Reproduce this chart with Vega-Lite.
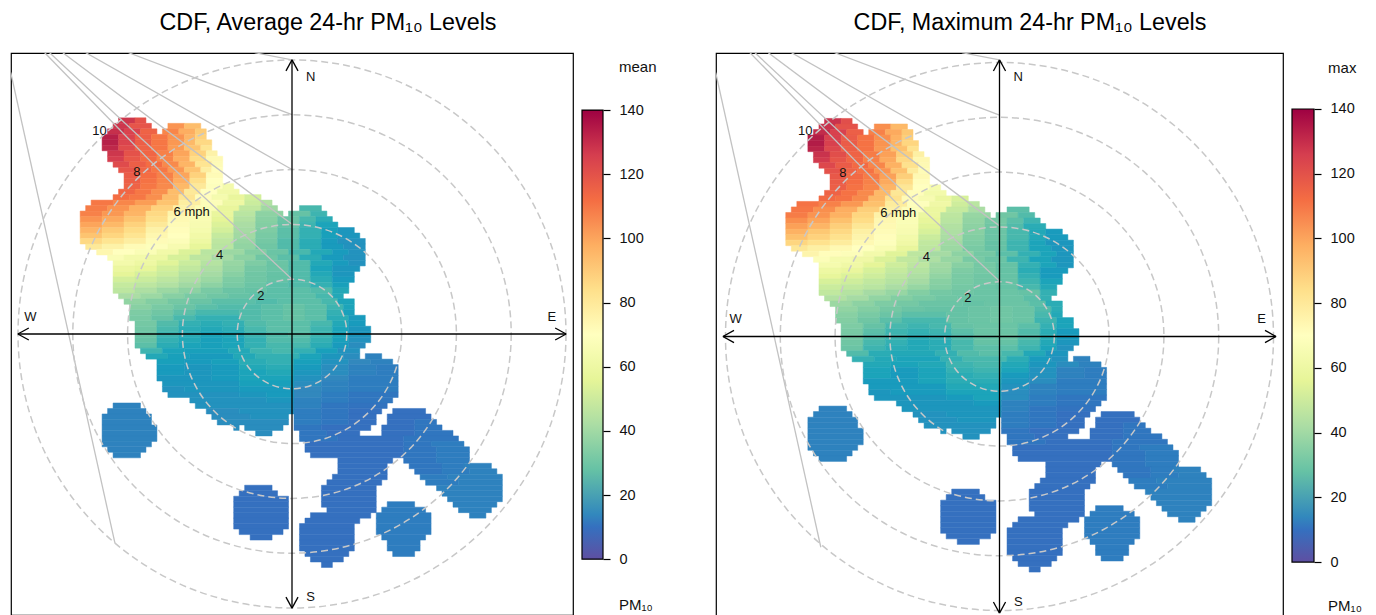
{"$schema":"https://vega.github.io/schema/vega-lite/v6.json","padding":{"left":10,"top":10,"right":0,"bottom":0},"background":"white","config":{"font":"Liberation Sans","view":{"stroke":null},"axis":{"grid":false}},
"datasets":{
"cells":[
{"x":-32,"x2":-29,"y":39,"mean":128,"max":129},{"x":-29,"x2":-27,"y":39,"mean":120,"max":121},
{"x":-33,"x2":-30,"y":38,"mean":128,"max":129},{"x":-30,"x2":-26,"y":38,"mean":119,"max":120},{"x":-23,"x2":-20,"y":38,"mean":104,"max":105},{"x":-20,"x2":-17,"y":38,"mean":94,"max":95},
{"x":-34,"x2":-31,"y":37,"mean":130,"max":131},{"x":-31,"x2":-28,"y":37,"mean":124,"max":125},{"x":-28,"x2":-25,"y":37,"mean":115,"max":116},{"x":-24,"x2":-21,"y":37,"mean":107,"max":108},{"x":-21,"x2":-18,"y":37,"mean":98,"max":99},{"x":-18,"x2":-16,"y":37,"mean":90,"max":91},
{"x":-35,"x2":-32,"y":36,"mean":134,"max":135},{"x":-32,"x2":-29,"y":36,"mean":124,"max":125},{"x":-29,"x2":-26,"y":36,"mean":116,"max":117},{"x":-26,"x2":-23,"y":36,"mean":110,"max":111},{"x":-23,"x2":-20,"y":36,"mean":104,"max":105},{"x":-20,"x2":-18,"y":36,"mean":96,"max":97},{"x":-18,"x2":-16,"y":36,"mean":88,"max":89},
{"x":-35,"x2":-32,"y":35,"mean":134,"max":135},{"x":-32,"x2":-29,"y":35,"mean":124,"max":125},{"x":-29,"x2":-26,"y":35,"mean":116,"max":117},{"x":-26,"x2":-23,"y":35,"mean":110,"max":111},{"x":-23,"x2":-20,"y":35,"mean":103,"max":104},{"x":-20,"x2":-18,"y":35,"mean":95,"max":96},{"x":-18,"x2":-15,"y":35,"mean":86,"max":87},
{"x":-35,"x2":-32,"y":34,"mean":132,"max":133},{"x":-32,"x2":-29,"y":34,"mean":122,"max":123},{"x":-29,"x2":-26,"y":34,"mean":115,"max":116},{"x":-26,"x2":-23,"y":34,"mean":110,"max":111},{"x":-23,"x2":-20,"y":34,"mean":102,"max":103},{"x":-20,"x2":-17,"y":34,"mean":92,"max":93},{"x":-17,"x2":-15,"y":34,"mean":82,"max":83},
{"x":-34,"x2":-31,"y":33,"mean":128,"max":129},{"x":-31,"x2":-28,"y":33,"mean":120,"max":121},{"x":-28,"x2":-25,"y":33,"mean":114,"max":115},{"x":-25,"x2":-22,"y":33,"mean":108,"max":109},{"x":-22,"x2":-19,"y":33,"mean":100,"max":101},{"x":-19,"x2":-16,"y":33,"mean":88,"max":89},{"x":-16,"x2":-14,"y":33,"mean":76,"max":77},
{"x":-34,"x2":-31,"y":32,"mean":126,"max":127},{"x":-31,"x2":-28,"y":32,"mean":118,"max":119},{"x":-28,"x2":-25,"y":32,"mean":113,"max":114},{"x":-25,"x2":-22,"y":32,"mean":107,"max":108},{"x":-22,"x2":-19,"y":32,"mean":98,"max":99},{"x":-19,"x2":-16,"y":32,"mean":85,"max":86},{"x":-16,"x2":-13,"y":32,"mean":73,"max":74},
{"x":-33,"x2":-30,"y":31,"mean":122,"max":123},{"x":-30,"x2":-27,"y":31,"mean":116,"max":117},{"x":-27,"x2":-24,"y":31,"mean":112,"max":113},{"x":-24,"x2":-21,"y":31,"mean":106,"max":107},{"x":-21,"x2":-18,"y":31,"mean":96,"max":97},{"x":-18,"x2":-15,"y":31,"mean":82,"max":83},{"x":-15,"x2":-13,"y":31,"mean":72,"max":73},
{"x":-32,"x2":-29,"y":30,"mean":119,"max":120},{"x":-29,"x2":-26,"y":30,"mean":114,"max":115},{"x":-26,"x2":-23,"y":30,"mean":110,"max":111},{"x":-23,"x2":-20,"y":30,"mean":103,"max":104},{"x":-20,"x2":-17,"y":30,"mean":92,"max":93},{"x":-17,"x2":-15,"y":30,"mean":78,"max":79},{"x":-15,"x2":-13,"y":30,"mean":71,"max":72},
{"x":-31,"x2":-28,"y":29,"mean":117,"max":118},{"x":-28,"x2":-25,"y":29,"mean":112,"max":113},{"x":-25,"x2":-22,"y":29,"mean":108,"max":109},{"x":-22,"x2":-19,"y":29,"mean":100,"max":101},{"x":-19,"x2":-16,"y":29,"mean":88,"max":89},{"x":-16,"x2":-13,"y":29,"mean":72,"max":73},
{"x":-31,"x2":-28,"y":28,"mean":116,"max":117},{"x":-28,"x2":-25,"y":28,"mean":111,"max":112},{"x":-25,"x2":-22,"y":28,"mean":107,"max":108},{"x":-22,"x2":-19,"y":28,"mean":98,"max":99},{"x":-19,"x2":-16,"y":28,"mean":84,"max":85},{"x":-16,"x2":-13,"y":28,"mean":70,"max":71},
{"x":-31,"x2":-28,"y":27,"mean":115,"max":116},{"x":-28,"x2":-25,"y":27,"mean":110,"max":111},{"x":-25,"x2":-22,"y":27,"mean":106,"max":107},{"x":-22,"x2":-19,"y":27,"mean":95,"max":96},{"x":-19,"x2":-16,"y":27,"mean":80,"max":81},{"x":-16,"x2":-13,"y":27,"mean":69,"max":70},{"x":-13,"x2":-11,"y":27,"mean":63,"max":64},
{"x":-32,"x2":-29,"y":26,"mean":114,"max":115},{"x":-29,"x2":-26,"y":26,"mean":110,"max":111},{"x":-26,"x2":-23,"y":26,"mean":105,"max":106},{"x":-23,"x2":-20,"y":26,"mean":94,"max":95},{"x":-20,"x2":-17,"y":26,"mean":80,"max":81},{"x":-17,"x2":-14,"y":26,"mean":70,"max":71},{"x":-14,"x2":-10,"y":26,"mean":62,"max":63},
{"x":-33,"x2":-30,"y":25,"mean":112,"max":113},{"x":-30,"x2":-27,"y":25,"mean":110,"max":111},{"x":-27,"x2":-24,"y":25,"mean":105,"max":106},{"x":-24,"x2":-21,"y":25,"mean":94,"max":95},{"x":-21,"x2":-18,"y":25,"mean":82,"max":83},{"x":-18,"x2":-15,"y":25,"mean":71,"max":72},{"x":-15,"x2":-12,"y":25,"mean":64,"max":65},{"x":-12,"x2":-9,"y":25,"mean":58,"max":59},{"x":-9,"x2":-6,"y":25,"mean":52,"max":53},
{"x":-37,"x2":-33,"y":24,"mean":110,"max":111},{"x":-33,"x2":-29,"y":24,"mean":107,"max":108},{"x":-29,"x2":-25,"y":24,"mean":102,"max":103},{"x":-25,"x2":-21,"y":24,"mean":92,"max":93},{"x":-21,"x2":-17,"y":24,"mean":78,"max":79},{"x":-17,"x2":-13,"y":24,"mean":68,"max":69},{"x":-13,"x2":-9,"y":24,"mean":60,"max":61},{"x":-9,"x2":-6,"y":24,"mean":50,"max":51},{"x":-6,"x2":-4,"y":24,"mean":44,"max":46},
{"x":-38,"x2":-34,"y":23,"mean":109,"max":110},{"x":-34,"x2":-30,"y":23,"mean":104,"max":105},{"x":-30,"x2":-26,"y":23,"mean":97,"max":98},{"x":-26,"x2":-22,"y":23,"mean":88,"max":89},{"x":-22,"x2":-18,"y":23,"mean":76,"max":77},{"x":-18,"x2":-14,"y":23,"mean":67,"max":68},{"x":-14,"x2":-10,"y":23,"mean":58,"max":59},{"x":-10,"x2":-6,"y":23,"mean":48,"max":49},{"x":-6,"x2":-3,"y":23,"mean":40,"max":42},{"x":1,"x2":5,"y":23,"mean":25,"max":27},
{"x":-39,"x2":-35,"y":22,"mean":108,"max":109},{"x":-35,"x2":-31,"y":22,"mean":103,"max":104},{"x":-31,"x2":-27,"y":22,"mean":96,"max":97},{"x":-27,"x2":-23,"y":22,"mean":86,"max":87},{"x":-23,"x2":-19,"y":22,"mean":75,"max":76},{"x":-19,"x2":-15,"y":22,"mean":67,"max":68},{"x":-15,"x2":-11,"y":22,"mean":58,"max":59},{"x":-11,"x2":-7,"y":22,"mean":46,"max":47},{"x":-7,"x2":-2,"y":22,"mean":36,"max":38},{"x":-1,"x2":3,"y":22,"mean":28,"max":30},{"x":3,"x2":6,"y":22,"mean":24,"max":26},
{"x":-39,"x2":-35,"y":21,"mean":104,"max":105},{"x":-35,"x2":-31,"y":21,"mean":99,"max":100},{"x":-31,"x2":-27,"y":21,"mean":92,"max":93},{"x":-27,"x2":-23,"y":21,"mean":84,"max":85},{"x":-23,"x2":-19,"y":21,"mean":73,"max":74},{"x":-19,"x2":-15,"y":21,"mean":66,"max":67},{"x":-15,"x2":-11,"y":21,"mean":56,"max":57},{"x":-11,"x2":-7,"y":21,"mean":44,"max":46},{"x":-7,"x2":-3,"y":21,"mean":35,"max":37},{"x":-3,"x2":1,"y":21,"mean":29,"max":31},{"x":1,"x2":4,"y":21,"mean":25,"max":27},{"x":4,"x2":7,"y":21,"mean":22,"max":24},
{"x":-39,"x2":-35,"y":20,"mean":100,"max":101},{"x":-35,"x2":-31,"y":20,"mean":95,"max":96},{"x":-31,"x2":-27,"y":20,"mean":88,"max":89},{"x":-27,"x2":-23,"y":20,"mean":80,"max":81},{"x":-23,"x2":-19,"y":20,"mean":72,"max":73},{"x":-19,"x2":-15,"y":20,"mean":65,"max":66},{"x":-15,"x2":-11,"y":20,"mean":54,"max":55},{"x":-11,"x2":-7,"y":20,"mean":42,"max":44},{"x":-7,"x2":-3,"y":20,"mean":34,"max":36},{"x":-3,"x2":1,"y":20,"mean":28,"max":30},{"x":1,"x2":4,"y":20,"mean":24,"max":26},{"x":4,"x2":8,"y":20,"mean":20,"max":22},
{"x":-39,"x2":-35,"y":19,"mean":96,"max":97},{"x":-35,"x2":-31,"y":19,"mean":90,"max":91},{"x":-31,"x2":-27,"y":19,"mean":85,"max":86},{"x":-27,"x2":-23,"y":19,"mean":76,"max":77},{"x":-23,"x2":-19,"y":19,"mean":71,"max":72},{"x":-19,"x2":-15,"y":19,"mean":64,"max":65},{"x":-15,"x2":-11,"y":19,"mean":52,"max":53},{"x":-11,"x2":-7,"y":19,"mean":41,"max":43},{"x":-7,"x2":-3,"y":19,"mean":33,"max":35},{"x":-3,"x2":1,"y":19,"mean":27,"max":29},{"x":1,"x2":5,"y":19,"mean":23,"max":25},{"x":5,"x2":8,"y":19,"mean":19,"max":21},{"x":8,"x2":11,"y":19,"mean":17,"max":18},
{"x":-39,"x2":-35,"y":18,"mean":92,"max":93},{"x":-35,"x2":-31,"y":18,"mean":87,"max":88},{"x":-31,"x2":-27,"y":18,"mean":82,"max":83},{"x":-27,"x2":-23,"y":18,"mean":74,"max":75},{"x":-23,"x2":-19,"y":18,"mean":70,"max":71},{"x":-19,"x2":-15,"y":18,"mean":62,"max":63},{"x":-15,"x2":-11,"y":18,"mean":49,"max":50},{"x":-11,"x2":-7,"y":18,"mean":40,"max":42},{"x":-7,"x2":-3,"y":18,"mean":32,"max":34},{"x":-3,"x2":1,"y":18,"mean":27,"max":29},{"x":1,"x2":5,"y":18,"mean":23,"max":25},{"x":5,"x2":8,"y":18,"mean":19,"max":21},{"x":8,"x2":12,"y":18,"mean":17,"max":18},
{"x":-39,"x2":-35,"y":17,"mean":86,"max":87},{"x":-35,"x2":-31,"y":17,"mean":82,"max":83},{"x":-31,"x2":-27,"y":17,"mean":78,"max":79},{"x":-27,"x2":-23,"y":17,"mean":72,"max":73},{"x":-23,"x2":-19,"y":17,"mean":68,"max":69},{"x":-19,"x2":-15,"y":17,"mean":60,"max":61},{"x":-15,"x2":-11,"y":17,"mean":47,"max":48},{"x":-11,"x2":-7,"y":17,"mean":38,"max":40},{"x":-7,"x2":-3,"y":17,"mean":31,"max":33},{"x":-3,"x2":1,"y":17,"mean":26,"max":28},{"x":1,"x2":5,"y":17,"mean":22,"max":24},{"x":5,"x2":8,"y":17,"mean":18,"max":20},{"x":8,"x2":13,"y":17,"mean":16,"max":17},
{"x":-38,"x2":-35,"y":16,"mean":80,"max":81},{"x":-35,"x2":-31,"y":16,"mean":76,"max":77},{"x":-31,"x2":-27,"y":16,"mean":72,"max":73},{"x":-27,"x2":-23,"y":16,"mean":69,"max":70},{"x":-23,"x2":-19,"y":16,"mean":65,"max":66},{"x":-19,"x2":-15,"y":16,"mean":57,"max":58},{"x":-15,"x2":-11,"y":16,"mean":46,"max":47},{"x":-11,"x2":-7,"y":16,"mean":37,"max":39},{"x":-7,"x2":-3,"y":16,"mean":30,"max":32},{"x":-3,"x2":1,"y":16,"mean":26,"max":28},{"x":1,"x2":5,"y":16,"mean":22,"max":24},{"x":5,"x2":9,"y":16,"mean":18,"max":20},{"x":9,"x2":13,"y":16,"mean":16,"max":17},
{"x":-36,"x2":-33,"y":15,"mean":74,"max":75},{"x":-33,"x2":-29,"y":15,"mean":70,"max":71},{"x":-29,"x2":-25,"y":15,"mean":67,"max":68},{"x":-25,"x2":-21,"y":15,"mean":62,"max":63},{"x":-21,"x2":-17,"y":15,"mean":54,"max":55},{"x":-17,"x2":-13,"y":15,"mean":46,"max":47},{"x":-13,"x2":-9,"y":15,"mean":39,"max":41},{"x":-9,"x2":-5,"y":15,"mean":34,"max":36},{"x":-5,"x2":-1,"y":15,"mean":29,"max":31},{"x":-1,"x2":3,"y":15,"mean":25,"max":27},{"x":3,"x2":7,"y":15,"mean":21,"max":23},{"x":7,"x2":10,"y":15,"mean":18,"max":20},{"x":10,"x2":13,"y":15,"mean":16,"max":17},
{"x":-34,"x2":-31,"y":14,"mean":67,"max":68},{"x":-31,"x2":-27,"y":14,"mean":63,"max":64},{"x":-27,"x2":-23,"y":14,"mean":60,"max":61},{"x":-23,"x2":-19,"y":14,"mean":53,"max":54},{"x":-19,"x2":-15,"y":14,"mean":47,"max":48},{"x":-15,"x2":-11,"y":14,"mean":41,"max":43},{"x":-11,"x2":-7,"y":14,"mean":36,"max":38},{"x":-7,"x2":-3,"y":14,"mean":30,"max":32},{"x":-3,"x2":1,"y":14,"mean":27,"max":29},{"x":1,"x2":5,"y":14,"mean":22,"max":24},{"x":5,"x2":9,"y":14,"mean":18,"max":20},{"x":9,"x2":13,"y":14,"mean":16,"max":17},
{"x":-33,"x2":-29,"y":13,"mean":63,"max":64},{"x":-29,"x2":-25,"y":13,"mean":60,"max":61},{"x":-25,"x2":-21,"y":13,"mean":55,"max":56},{"x":-21,"x2":-17,"y":13,"mean":50,"max":51},{"x":-17,"x2":-13,"y":13,"mean":45,"max":47},{"x":-13,"x2":-9,"y":13,"mean":38,"max":40},{"x":-9,"x2":-5,"y":13,"mean":33,"max":35},{"x":-5,"x2":-1,"y":13,"mean":29,"max":31},{"x":-1,"x2":3,"y":13,"mean":26,"max":28},{"x":3,"x2":7,"y":13,"mean":21,"max":23},{"x":7,"x2":10,"y":13,"mean":18,"max":20},{"x":10,"x2":13,"y":13,"mean":16,"max":17},
{"x":-33,"x2":-29,"y":12,"mean":59,"max":60},{"x":-29,"x2":-25,"y":12,"mean":57,"max":58},{"x":-25,"x2":-21,"y":12,"mean":52,"max":53},{"x":-21,"x2":-17,"y":12,"mean":48,"max":49},{"x":-17,"x2":-13,"y":12,"mean":43,"max":45},{"x":-13,"x2":-9,"y":12,"mean":37,"max":39},{"x":-9,"x2":-5,"y":12,"mean":31,"max":33},{"x":-5,"x2":-1,"y":12,"mean":29,"max":31},{"x":-1,"x2":3,"y":12,"mean":26,"max":28},{"x":3,"x2":7,"y":12,"mean":20,"max":22},{"x":7,"x2":12,"y":12,"mean":17,"max":18},
{"x":-33,"x2":-29,"y":11,"mean":56,"max":57},{"x":-29,"x2":-25,"y":11,"mean":53,"max":54},{"x":-25,"x2":-21,"y":11,"mean":50,"max":51},{"x":-21,"x2":-17,"y":11,"mean":45,"max":47},{"x":-17,"x2":-13,"y":11,"mean":41,"max":43},{"x":-13,"x2":-9,"y":11,"mean":35,"max":37},{"x":-9,"x2":-5,"y":11,"mean":30,"max":32},{"x":-5,"x2":-1,"y":11,"mean":28,"max":30},{"x":-1,"x2":3,"y":11,"mean":26,"max":28},{"x":3,"x2":7,"y":11,"mean":21,"max":23},{"x":7,"x2":11,"y":11,"mean":17,"max":18},
{"x":-33,"x2":-29,"y":10,"mean":52,"max":53},{"x":-29,"x2":-25,"y":10,"mean":50,"max":51},{"x":-25,"x2":-21,"y":10,"mean":47,"max":48},{"x":-21,"x2":-17,"y":10,"mean":43,"max":45},{"x":-17,"x2":-13,"y":10,"mean":39,"max":41},{"x":-13,"x2":-9,"y":10,"mean":33,"max":35},{"x":-9,"x2":-5,"y":10,"mean":30,"max":32},{"x":-5,"x2":-1,"y":10,"mean":28,"max":30},{"x":-1,"x2":3,"y":10,"mean":26,"max":28},{"x":3,"x2":7,"y":10,"mean":22,"max":24},{"x":7,"x2":11,"y":10,"mean":18,"max":20},
{"x":-33,"x2":-29,"y":9,"mean":49,"max":50},{"x":-29,"x2":-25,"y":9,"mean":47,"max":48},{"x":-25,"x2":-21,"y":9,"mean":44,"max":46},{"x":-21,"x2":-17,"y":9,"mean":40,"max":42},{"x":-17,"x2":-13,"y":9,"mean":36,"max":38},{"x":-13,"x2":-9,"y":9,"mean":32,"max":34},{"x":-9,"x2":-5,"y":9,"mean":29,"max":31},{"x":-5,"x2":-1,"y":9,"mean":27,"max":29},{"x":-1,"x2":3,"y":9,"mean":26,"max":28},{"x":3,"x2":7,"y":9,"mean":23,"max":25},{"x":7,"x2":10,"y":9,"mean":19,"max":21},
{"x":-33,"x2":-29,"y":8,"mean":47,"max":48},{"x":-29,"x2":-25,"y":8,"mean":43,"max":45},{"x":-25,"x2":-21,"y":8,"mean":39,"max":41},{"x":-21,"x2":-17,"y":8,"mean":36,"max":38},{"x":-17,"x2":-13,"y":8,"mean":32,"max":34},{"x":-13,"x2":-9,"y":8,"mean":29,"max":31},{"x":-9,"x2":-5,"y":8,"mean":28,"max":30},{"x":-5,"x2":3,"y":8,"mean":27,"max":29},{"x":3,"x2":7,"y":8,"mean":26,"max":28},{"x":7,"x2":10,"y":8,"mean":21,"max":23},
{"x":-32,"x2":-28,"y":7,"mean":42,"max":44},{"x":-28,"x2":-24,"y":7,"mean":39,"max":41},{"x":-24,"x2":-20,"y":7,"mean":35,"max":37},{"x":-20,"x2":-16,"y":7,"mean":32,"max":34},{"x":-16,"x2":-12,"y":7,"mean":30,"max":32},{"x":-12,"x2":-8,"y":7,"mean":28,"max":30},{"x":-8,"x2":4,"y":7,"mean":27,"max":29},{"x":4,"x2":7,"y":7,"mean":25,"max":27},{"x":7,"x2":9,"y":7,"mean":21,"max":23},
{"x":-31,"x2":-27,"y":6,"mean":37,"max":39},{"x":-27,"x2":-23,"y":6,"mean":34,"max":36},{"x":-23,"x2":-19,"y":6,"mean":31,"max":33},{"x":-19,"x2":-15,"y":6,"mean":29,"max":31},{"x":-15,"x2":-7,"y":6,"mean":27,"max":29},{"x":-7,"x2":-3,"y":6,"mean":26,"max":28},{"x":-3,"x2":5,"y":6,"mean":27,"max":29},{"x":5,"x2":8,"y":6,"mean":25,"max":27},{"x":8,"x2":11,"y":6,"mean":20,"max":22},
{"x":-30,"x2":-26,"y":5,"mean":35,"max":37},{"x":-26,"x2":-22,"y":5,"mean":32,"max":34},{"x":-22,"x2":-18,"y":5,"mean":29,"max":31},{"x":-18,"x2":-14,"y":5,"mean":27,"max":29},{"x":-14,"x2":-6,"y":5,"mean":26,"max":28},{"x":-6,"x2":-2,"y":5,"mean":27,"max":29},{"x":-2,"x2":2,"y":5,"mean":28,"max":30},{"x":2,"x2":6,"y":5,"mean":27,"max":29},{"x":6,"x2":9,"y":5,"mean":24,"max":26},{"x":9,"x2":11,"y":5,"mean":20,"max":22},
{"x":-30,"x2":-26,"y":4,"mean":33,"max":35},{"x":-26,"x2":-22,"y":4,"mean":30,"max":32},{"x":-22,"x2":-18,"y":4,"mean":27,"max":29},{"x":-18,"x2":-10,"y":4,"mean":25,"max":27},{"x":-10,"x2":-6,"y":4,"mean":26,"max":28},{"x":-6,"x2":-2,"y":4,"mean":27,"max":29},{"x":-2,"x2":2,"y":4,"mean":28,"max":30},{"x":2,"x2":6,"y":4,"mean":27,"max":29},{"x":6,"x2":9,"y":4,"mean":23,"max":25},{"x":9,"x2":11,"y":4,"mean":19,"max":21},
{"x":-30,"x2":-26,"y":3,"mean":32,"max":34},{"x":-26,"x2":-22,"y":3,"mean":28,"max":30},{"x":-22,"x2":-18,"y":3,"mean":25,"max":27},{"x":-18,"x2":-10,"y":3,"mean":23,"max":25},{"x":-10,"x2":-6,"y":3,"mean":26,"max":28},{"x":-6,"x2":-2,"y":3,"mean":27,"max":29},{"x":-2,"x2":2,"y":3,"mean":28,"max":30},{"x":2,"x2":6,"y":3,"mean":27,"max":29},{"x":6,"x2":10,"y":3,"mean":22,"max":24},{"x":10,"x2":13,"y":3,"mean":18,"max":20},
{"x":-29,"x2":-25,"y":2,"mean":31,"max":33},{"x":-25,"x2":-21,"y":2,"mean":26,"max":28},{"x":-21,"x2":-17,"y":2,"mean":23,"max":25},{"x":-17,"x2":-13,"y":2,"mean":22,"max":24},{"x":-13,"x2":-9,"y":2,"mean":23,"max":25},{"x":-9,"x2":-5,"y":2,"mean":26,"max":28},{"x":-5,"x2":3,"y":2,"mean":27,"max":29},{"x":3,"x2":7,"y":2,"mean":25,"max":27},{"x":7,"x2":10,"y":2,"mean":21,"max":23},{"x":10,"x2":13,"y":2,"mean":18,"max":20},
{"x":-29,"x2":-25,"y":1,"mean":30,"max":32},{"x":-25,"x2":-21,"y":1,"mean":25,"max":27},{"x":-21,"x2":-17,"y":1,"mean":22,"max":24},{"x":-17,"x2":-13,"y":1,"mean":21,"max":23},{"x":-13,"x2":-9,"y":1,"mean":22,"max":24},{"x":-9,"x2":-5,"y":1,"mean":25,"max":27},{"x":-5,"x2":3,"y":1,"mean":27,"max":29},{"x":3,"x2":7,"y":1,"mean":24,"max":26},{"x":7,"x2":10,"y":1,"mean":20,"max":22},{"x":10,"x2":14,"y":1,"mean":17,"max":18},
{"x":-29,"x2":-25,"y":0,"mean":29,"max":31},{"x":-25,"x2":-21,"y":0,"mean":24,"max":26},{"x":-21,"x2":-17,"y":0,"mean":22,"max":24},{"x":-17,"x2":-13,"y":0,"mean":20,"max":22},{"x":-13,"x2":-9,"y":0,"mean":21,"max":23},{"x":-9,"x2":-5,"y":0,"mean":24,"max":26},{"x":-5,"x2":-1,"y":0,"mean":26,"max":28},{"x":-1,"x2":3,"y":0,"mean":27,"max":29},{"x":3,"x2":7,"y":0,"mean":24,"max":26},{"x":7,"x2":10,"y":0,"mean":20,"max":22},{"x":10,"x2":14,"y":0,"mean":17,"max":18},
{"x":-29,"x2":-25,"y":-1,"mean":28,"max":30},{"x":-25,"x2":-21,"y":-1,"mean":23,"max":25},{"x":-21,"x2":-17,"y":-1,"mean":21,"max":23},{"x":-17,"x2":-13,"y":-1,"mean":19,"max":21},{"x":-13,"x2":-9,"y":-1,"mean":20,"max":22},{"x":-9,"x2":-5,"y":-1,"mean":23,"max":25},{"x":-5,"x2":3,"y":-1,"mean":26,"max":28},{"x":3,"x2":7,"y":-1,"mean":23,"max":25},{"x":7,"x2":10,"y":-1,"mean":19,"max":21},{"x":10,"x2":14,"y":-1,"mean":16,"max":17},
{"x":-29,"x2":-25,"y":-2,"mean":27,"max":29},{"x":-25,"x2":-21,"y":-2,"mean":22,"max":24},{"x":-21,"x2":-17,"y":-2,"mean":20,"max":22},{"x":-17,"x2":-13,"y":-2,"mean":19,"max":21},{"x":-13,"x2":-9,"y":-2,"mean":20,"max":22},{"x":-9,"x2":-5,"y":-2,"mean":23,"max":25},{"x":-5,"x2":3,"y":-2,"mean":25,"max":27},{"x":3,"x2":7,"y":-2,"mean":22,"max":24},{"x":7,"x2":10,"y":-2,"mean":18,"max":20},{"x":10,"x2":13,"y":-2,"mean":15,"max":16},
{"x":-28,"x2":-24,"y":-3,"mean":24,"max":26},{"x":-24,"x2":-20,"y":-3,"mean":20,"max":22},{"x":-20,"x2":-12,"y":-3,"mean":19,"max":21},{"x":-12,"x2":-8,"y":-3,"mean":21,"max":23},{"x":-8,"x2":-4,"y":-3,"mean":24,"max":26},{"x":-4,"x2":0,"y":-3,"mean":25,"max":27},{"x":0,"x2":4,"y":-3,"mean":23,"max":25},{"x":4,"x2":8,"y":-3,"mean":19,"max":21},{"x":8,"x2":12,"y":-3,"mean":16,"max":17},
{"x":-27,"x2":-23,"y":-4,"mean":21,"max":23},{"x":-23,"x2":-19,"y":-4,"mean":19,"max":21},{"x":-19,"x2":-11,"y":-4,"mean":18,"max":20},{"x":-11,"x2":-7,"y":-4,"mean":21,"max":23},{"x":-7,"x2":1,"y":-4,"mean":23,"max":25},{"x":1,"x2":5,"y":-4,"mean":20,"max":22},{"x":5,"x2":9,"y":-4,"mean":17,"max":18},{"x":9,"x2":12,"y":-4,"mean":15,"max":16},{"x":13,"x2":16,"y":-4,"mean":13,"max":13},
{"x":-25,"x2":-20,"y":-5,"mean":19,"max":21},{"x":-20,"x2":-15,"y":-5,"mean":18,"max":20},{"x":-15,"x2":-10,"y":-5,"mean":19,"max":21},{"x":-10,"x2":-5,"y":-5,"mean":22,"max":24},{"x":-5,"x2":0,"y":-5,"mean":23,"max":25},{"x":0,"x2":5,"y":-5,"mean":19,"max":21},{"x":5,"x2":10,"y":-5,"mean":16,"max":17},{"x":10,"x2":14,"y":-5,"mean":14,"max":15},{"x":14,"x2":18,"y":-5,"mean":13,"max":13},
{"x":-25,"x2":-20,"y":-6,"mean":18,"max":20},{"x":-20,"x2":-15,"y":-6,"mean":17,"max":18},{"x":-15,"x2":-10,"y":-6,"mean":18,"max":20},{"x":-10,"x2":-5,"y":-6,"mean":21,"max":23},{"x":-5,"x2":0,"y":-6,"mean":22,"max":24},{"x":0,"x2":5,"y":-6,"mean":18,"max":20},{"x":5,"x2":10,"y":-6,"mean":15,"max":16},{"x":10,"x2":15,"y":-6,"mean":13,"max":13},{"x":15,"x2":19,"y":-6,"mean":12,"max":12},
{"x":-25,"x2":-20,"y":-7,"mean":18,"max":20},{"x":-20,"x2":-15,"y":-7,"mean":17,"max":18},{"x":-15,"x2":-10,"y":-7,"mean":18,"max":20},{"x":-10,"x2":-5,"y":-7,"mean":20,"max":22},{"x":-5,"x2":0,"y":-7,"mean":21,"max":23},{"x":0,"x2":5,"y":-7,"mean":17,"max":18},{"x":5,"x2":10,"y":-7,"mean":15,"max":16},{"x":10,"x2":15,"y":-7,"mean":13,"max":13},{"x":15,"x2":19,"y":-7,"mean":12,"max":12},
{"x":-25,"x2":-15,"y":-8,"mean":17,"max":18},{"x":-15,"x2":-10,"y":-8,"mean":18,"max":20},{"x":-10,"x2":0,"y":-8,"mean":20,"max":22},{"x":0,"x2":5,"y":-8,"mean":16,"max":17},{"x":5,"x2":10,"y":-8,"mean":14,"max":15},{"x":10,"x2":19,"y":-8,"mean":12,"max":12},
{"x":-24,"x2":-10,"y":-9,"mean":17,"max":18},{"x":-10,"x2":0,"y":-9,"mean":19,"max":21},{"x":0,"x2":5,"y":-9,"mean":15,"max":16},{"x":5,"x2":10,"y":-9,"mean":13,"max":13},{"x":10,"x2":19,"y":-9,"mean":12,"max":12},
{"x":-24,"x2":-20,"y":-10,"mean":16,"max":17},{"x":-20,"x2":-10,"y":-10,"mean":17,"max":18},{"x":-10,"x2":0,"y":-10,"mean":18,"max":20},{"x":0,"x2":5,"y":-10,"mean":14,"max":15},{"x":5,"x2":10,"y":-10,"mean":13,"max":13},{"x":10,"x2":19,"y":-10,"mean":12,"max":12},
{"x":-23,"x2":-10,"y":-11,"mean":16,"max":17},{"x":-10,"x2":-5,"y":-11,"mean":17,"max":18},{"x":-5,"x2":0,"y":-11,"mean":18,"max":20},{"x":0,"x2":5,"y":-11,"mean":14,"max":15},{"x":5,"x2":10,"y":-11,"mean":12,"max":12},{"x":10,"x2":19,"y":-11,"mean":11,"max":11},
{"x":-19,"x2":-5,"y":-12,"mean":16,"max":17},{"x":-5,"x2":0,"y":-12,"mean":17,"max":18},{"x":0,"x2":5,"y":-12,"mean":13,"max":13},{"x":5,"x2":10,"y":-12,"mean":12,"max":12},{"x":10,"x2":18,"y":-12,"mean":11,"max":11},
{"x":-18,"x2":0,"y":-13,"mean":16,"max":17},{"x":0,"x2":5,"y":-13,"mean":13,"max":13},{"x":5,"x2":10,"y":-13,"mean":11,"max":11},{"x":10,"x2":17,"y":-13,"mean":10.5,"max":10.5},{"x":-33,"x2":-28,"y":-13,"mean":13,"max":13},
{"x":-16,"x2":-10,"y":-14,"mean":15,"max":16},{"x":-10,"x2":0,"y":-14,"mean":16,"max":17},{"x":0,"x2":5,"y":-14,"mean":12,"max":12},{"x":5,"x2":10,"y":-14,"mean":11,"max":11},{"x":10,"x2":16,"y":-14,"mean":10,"max":10},{"x":18,"x2":24,"y":-14,"mean":10,"max":10},{"x":-34,"x2":-27,"y":-14,"mean":13,"max":13},
{"x":-15,"x2":-8,"y":-15,"mean":15,"max":16},{"x":-8,"x2":-1,"y":-15,"mean":16,"max":17},{"x":0,"x2":5,"y":-15,"mean":12,"max":12},{"x":5,"x2":10,"y":-15,"mean":11,"max":11},{"x":10,"x2":15,"y":-15,"mean":10,"max":10},{"x":17,"x2":25,"y":-15,"mean":10,"max":10},{"x":-35,"x2":-26,"y":-15,"mean":13,"max":13},
{"x":-14,"x2":-1,"y":-16,"mean":15,"max":16},{"x":0,"x2":5,"y":-16,"mean":12,"max":12},{"x":5,"x2":10,"y":-16,"mean":11,"max":11},{"x":10,"x2":15,"y":-16,"mean":10,"max":10},{"x":17,"x2":22,"y":-16,"mean":10,"max":10},{"x":22,"x2":26,"y":-16,"mean":11,"max":11},{"x":-35,"x2":-26,"y":-16,"mean":13,"max":13},
{"x":-11,"x2":-10,"y":-17,"mean":15,"max":16},{"x":-9,"x2":-2,"y":-17,"mean":15,"max":16},{"x":0,"x2":5,"y":-17,"mean":11,"max":11},{"x":5,"x2":14,"y":-17,"mean":10,"max":10},{"x":16,"x2":22,"y":-17,"mean":10,"max":10},{"x":22,"x2":27,"y":-17,"mean":11,"max":11},{"x":-35,"x2":-25,"y":-17,"mean":13,"max":13},
{"x":-7,"x2":-4,"y":-18,"mean":15,"max":16},{"x":1,"x2":6,"y":-18,"mean":11,"max":11},{"x":6,"x2":12,"y":-18,"mean":10,"max":10},{"x":16,"x2":22,"y":-18,"mean":10,"max":10},{"x":22,"x2":29,"y":-18,"mean":11,"max":11},{"x":-35,"x2":-25,"y":-18,"mean":13,"max":13},
{"x":1,"x2":8,"y":-19,"mean":11,"max":11},{"x":8,"x2":20,"y":-19,"mean":10,"max":10},{"x":20,"x2":30,"y":-19,"mean":11,"max":11},{"x":-35,"x2":-25,"y":-19,"mean":13,"max":13},
{"x":2,"x2":20,"y":-20,"mean":10,"max":10},{"x":20,"x2":25,"y":-20,"mean":11,"max":11},{"x":25,"x2":31,"y":-20,"mean":12,"max":12},{"x":-35,"x2":-26,"y":-20,"mean":13,"max":13},
{"x":2,"x2":20,"y":-21,"mean":10,"max":10},{"x":20,"x2":26,"y":-21,"mean":11,"max":11},{"x":26,"x2":32,"y":-21,"mean":12,"max":12},{"x":-34,"x2":-27,"y":-21,"mean":13,"max":13},
{"x":3,"x2":20,"y":-22,"mean":10,"max":10},{"x":20,"x2":26,"y":-22,"mean":11,"max":11},{"x":26,"x2":32,"y":-22,"mean":12,"max":12},{"x":-33,"x2":-28,"y":-22,"mean":13,"max":13},
{"x":8,"x2":18,"y":-23,"mean":10,"max":10},{"x":20,"x2":26,"y":-23,"mean":11,"max":11},{"x":26,"x2":32,"y":-23,"mean":12,"max":12},
{"x":8,"x2":17,"y":-24,"mean":10,"max":10},{"x":21,"x2":27,"y":-24,"mean":11,"max":11},{"x":27,"x2":31,"y":-24,"mean":12,"max":12},{"x":31,"x2":36,"y":-24,"mean":13,"max":13},
{"x":8,"x2":17,"y":-25,"mean":10,"max":10},{"x":22,"x2":27,"y":-25,"mean":11,"max":11},{"x":27,"x2":32,"y":-25,"mean":12,"max":12},{"x":32,"x2":37,"y":-25,"mean":13,"max":13},
{"x":7,"x2":17,"y":-26,"mean":10,"max":10},{"x":23,"x2":28,"y":-26,"mean":12,"max":12},{"x":28,"x2":38,"y":-26,"mean":13,"max":13},
{"x":6,"x2":16,"y":-27,"mean":10,"max":10},{"x":24,"x2":30,"y":-27,"mean":12,"max":12},{"x":30,"x2":38,"y":-27,"mean":13,"max":13},
{"x":-9,"x2":-4,"y":-28,"mean":10,"max":10},{"x":5,"x2":15,"y":-28,"mean":10,"max":10},{"x":26,"x2":38,"y":-28,"mean":13,"max":13},
{"x":-10,"x2":-3,"y":-29,"mean":10,"max":10},{"x":5,"x2":15,"y":-29,"mean":10,"max":10},{"x":27,"x2":38,"y":-29,"mean":13,"max":13},
{"x":-11,"x2":-1,"y":-30,"mean":10,"max":10},{"x":5,"x2":15,"y":-30,"mean":10,"max":10},{"x":28,"x2":38,"y":-30,"mean":13,"max":13},
{"x":-11,"x2":-1,"y":-31,"mean":10,"max":10},{"x":5,"x2":15,"y":-31,"mean":10,"max":10},{"x":17,"x2":22,"y":-31,"mean":12,"max":12},{"x":29,"x2":37,"y":-31,"mean":13,"max":13},
{"x":-11,"x2":-1,"y":-32,"mean":10,"max":10},{"x":6,"x2":15,"y":-32,"mean":10,"max":10},{"x":16,"x2":24,"y":-32,"mean":12,"max":12},{"x":30,"x2":36,"y":-32,"mean":13,"max":13},
{"x":-11,"x2":-1,"y":-33,"mean":10,"max":10},{"x":3,"x2":14,"y":-33,"mean":10,"max":10},{"x":15,"x2":25,"y":-33,"mean":12,"max":12},{"x":32,"x2":35,"y":-33,"mean":13,"max":13},
{"x":-11,"x2":-1,"y":-34,"mean":10,"max":10},{"x":2,"x2":12,"y":-34,"mean":10,"max":10},{"x":15,"x2":25,"y":-34,"mean":12,"max":12},
{"x":-11,"x2":-1,"y":-35,"mean":10,"max":10},{"x":1,"x2":11,"y":-35,"mean":10,"max":10},{"x":15,"x2":25,"y":-35,"mean":12,"max":12},
{"x":-10,"x2":-2,"y":-36,"mean":10,"max":10},{"x":1,"x2":11,"y":-36,"mean":10,"max":10},{"x":15,"x2":25,"y":-36,"mean":12,"max":12},
{"x":-8,"x2":-4,"y":-37,"mean":10,"max":10},{"x":1,"x2":11,"y":-37,"mean":10,"max":10},{"x":16,"x2":24,"y":-37,"mean":12,"max":12},
{"x":1,"x2":11,"y":-38,"mean":10,"max":10},{"x":17,"x2":23,"y":-38,"mean":12,"max":12},
{"x":1,"x2":11,"y":-39,"mean":10,"max":10},{"x":17,"x2":23,"y":-39,"mean":12,"max":12},
{"x":2,"x2":10,"y":-40,"mean":10,"max":10},{"x":18,"x2":22,"y":-40,"mean":12,"max":12},
{"x":3,"x2":9,"y":-41,"mean":10,"max":10},
{"x":5,"x2":7,"y":-42,"mean":10,"max":10}
],
"rings":[{"speed":2},{"speed":4},{"speed":6},{"speed":8},{"speed":10}],
"spokes":[{"a":-6.8,"b":51.3,"c":0,"d":50},{"a":-29.8,"b":51.3,"c":0,"d":40},{"a":-37.6,"b":51.3,"c":0,"d":30},{"a":-41.8,"b":51.3,"c":0,"d":20},{"a":-44.2,"b":51.3,"c":0,"d":10},{"a":-45.1,"b":51.3,"c":-18.3,"d":23.8},{"a":-51.3,"b":47.7,"c":-32.3,"d":-38.1}],
"arrows":[{"a":0,"b":50,"c":0,"d":-50},{"a":-50,"b":0,"c":50,"d":0},{"a":0,"b":50,"c":-1.1,"d":48},{"a":0,"b":50,"c":1.1,"d":48},{"a":0,"b":-50,"c":-1.1,"d":-48},{"a":0,"b":-50,"c":1.1,"d":-48},{"a":-50,"b":0,"c":-48,"d":1.1},{"a":-50,"b":0,"c":-48,"d":-1.1},{"a":50,"b":0,"c":48,"d":1.1},{"a":50,"b":0,"c":48,"d":-1.1}],
"labels":[{"x":-5.7,"y":7,"t":"2"},{"x":-13.2,"y":14.4,"t":"4"},{"x":-18.3,"y":22.3,"t":"6 mph"},{"x":-28.3,"y":29.6,"t":"8"},{"x":-35.1,"y":37.1,"t":"10"},{"x":3.4,"y":46.9,"t":"N"},{"x":3.4,"y":-48,"t":"S"},{"x":-47.7,"y":3.1,"t":"W"},{"x":47.4,"y":3.1,"t":"E"}],
"bar":[{"lo":0,"hi":140,"a":0,"b":1}]
},
"spacing":58,
"hconcat":[
{"spacing":7,"hconcat":[
{"width":562,"height":562,"title":{"text":"CDF, Average 24-hr PM₁₀ Levels","fontSize":23.3,"fontWeight":"normal","dx":36,"offset":18},
"view":{"stroke":"black","strokeWidth":1.2},
"encoding":{"x":{"type":"quantitative","axis":null,"scale":{"domain":[-51.25,51.25],"nice":false,"zero":false}},"y":{"type":"quantitative","axis":null,"scale":{"domain":[-51.25,51.25],"nice":false,"zero":false}}},
"layer":[
{"data":{"name":"cells"},"mark":{"type":"rect","height":5.5,"xOffset":2,"x2Offset":2,"yOffset":0.45,"strokeWidth":0.5},"encoding":{"x":{"field":"x"},"x2":{"field":"x2"},"y":{"field":"y"},"fill":{"field":"mean","type":"quantitative","legend":null,"scale":{"domain":[0,5,10,14,28,42,56,70,84,98,112,126,140],"range":["#5e4fa2","#4a60b0","#3570bf","#3288bd","#66c2a5","#abdda4","#e6f598","#ffffbf","#fee08b","#fdae61","#f46d43","#d53e4f","#9e0142"]}},"stroke":{"field":"mean","type":"quantitative","legend":null,"scale":{"domain":[0,5,10,14,28,42,56,70,84,98,112,126,140],"range":["#5e4fa2","#4a60b0","#3570bf","#3288bd","#66c2a5","#abdda4","#e6f598","#ffffbf","#fee08b","#fdae61","#f46d43","#d53e4f","#9e0142"]}}}},
{"data":{"name":"spokes"},"mark":{"type":"rule","color":"#c2c2c2","strokeWidth":1.3,"clip":true},"encoding":{"x":{"field":"a"},"y":{"field":"b"},"x2":{"field":"c"},"y2":{"field":"d"}}},
{"data":{"name":"rings"},"mark":{"type":"point","shape":"circle","filled":false,"opacity":1,"color":"#c8c8c8","strokeWidth":1.5,"strokeDash":[7,4]},"encoding":{"x":{"datum":0},"y":{"datum":0},"size":{"field":"speed","type":"quantitative","legend":null,"scale":{"type":"pow","exponent":2,"domain":[0,10],"range":[0,300304]}}}},
{"data":{"name":"arrows"},"mark":{"type":"rule","color":"black","strokeWidth":1.3},"encoding":{"x":{"field":"a"},"y":{"field":"b"},"x2":{"field":"c"},"y2":{"field":"d"}}},
{"data":{"name":"labels"},"mark":{"type":"text","fontSize":13,"color":"#111"},"encoding":{"x":{"field":"x"},"y":{"field":"y"},"text":{"field":"t"}}}
]},
{"width":21,"height":562,
"encoding":{"x":{"type":"quantitative","axis":null,"scale":{"domain":[0,1],"nice":false,"zero":false}},"y":{"type":"quantitative","scale":{"domain":[-17.4,157.8],"nice":false,"zero":false},"axis":{"orient":"right","values":[0,20,40,60,80,100,120,140],"domain":false,"title":null,"tickSize":7,"tickColor":"black","tickWidth":1.2,"labelPadding":9,"labelFontSize":14.5,"labelColor":"#111","labelBound":false,"labelFlush":false}}},
"layer":[
{"data":{"name":"bar"},"mark":{"type":"rect","stroke":"black","strokeWidth":1.2,"color":{"gradient":"linear","x1":0,"y1":1,"x2":0,"y2":0,"stops":[{"offset":0,"color":"#5e4fa2"},{"offset":0.0357,"color":"#4a60b0"},{"offset":0.0714,"color":"#3570bf"},{"offset":0.1,"color":"#3288bd"},{"offset":0.2,"color":"#66c2a5"},{"offset":0.3,"color":"#abdda4"},{"offset":0.4,"color":"#e6f598"},{"offset":0.5,"color":"#ffffbf"},{"offset":0.6,"color":"#fee08b"},{"offset":0.7,"color":"#fdae61"},{"offset":0.8,"color":"#f46d43"},{"offset":0.9,"color":"#d53e4f"},{"offset":1,"color":"#9e0142"}]}},"encoding":{"x":{"field":"a"},"x2":{"field":"b"},"y":{"field":"lo"},"y2":{"field":"hi"}}},
{"data":{"values":[{"x":1.76,"y":153.4,"t":"mean"},{"x":1.76,"y":-14.25,"t":"PM₁₀"}]},"mark":{"type":"text","align":"left","fontSize":15,"color":"#111"},"encoding":{"x":{"field":"x"},"y":{"field":"y"},"text":{"field":"t"}}}
]}
]},
{"spacing":7,"hconcat":[
{"width":567,"height":567,"title":{"text":"CDF, Maximum 24-hr PM₁₀ Levels","fontSize":23.3,"fontWeight":"normal","dx":30.5,"offset":18},
"view":{"stroke":"black","strokeWidth":1.2},
"encoding":{"x":{"type":"quantitative","axis":null,"scale":{"domain":[-51.25,51.25],"nice":false,"zero":false}},"y":{"type":"quantitative","axis":null,"scale":{"domain":[-51.25,51.25],"nice":false,"zero":false}}},
"layer":[
{"data":{"name":"cells"},"mark":{"type":"rect","height":5.55,"xOffset":2,"x2Offset":2,"yOffset":0.45,"strokeWidth":0.5},"encoding":{"x":{"field":"x"},"x2":{"field":"x2"},"y":{"field":"y"},"fill":{"field":"max","type":"quantitative","legend":null,"scale":{"domain":[0,5,10,14,28,42,56,70,84,98,112,126,140],"range":["#5e4fa2","#4a60b0","#3570bf","#3288bd","#66c2a5","#abdda4","#e6f598","#ffffbf","#fee08b","#fdae61","#f46d43","#d53e4f","#9e0142"]}},"stroke":{"field":"max","type":"quantitative","legend":null,"scale":{"domain":[0,5,10,14,28,42,56,70,84,98,112,126,140],"range":["#5e4fa2","#4a60b0","#3570bf","#3288bd","#66c2a5","#abdda4","#e6f598","#ffffbf","#fee08b","#fdae61","#f46d43","#d53e4f","#9e0142"]}}}},
{"data":{"name":"spokes"},"mark":{"type":"rule","color":"#c2c2c2","strokeWidth":1.3,"clip":true},"encoding":{"x":{"field":"a"},"y":{"field":"b"},"x2":{"field":"c"},"y2":{"field":"d"}}},
{"data":{"name":"rings"},"mark":{"type":"point","shape":"circle","filled":false,"opacity":1,"color":"#c8c8c8","strokeWidth":1.5,"strokeDash":[7,4]},"encoding":{"x":{"datum":0},"y":{"datum":0},"size":{"field":"speed","type":"quantitative","legend":null,"scale":{"type":"pow","exponent":2,"domain":[0,10],"range":[0,306000]}}}},
{"data":{"name":"arrows"},"mark":{"type":"rule","color":"black","strokeWidth":1.3},"encoding":{"x":{"field":"a"},"y":{"field":"b"},"x2":{"field":"c"},"y2":{"field":"d"}}},
{"data":{"name":"labels"},"mark":{"type":"text","fontSize":13,"color":"#111"},"encoding":{"x":{"field":"x"},"y":{"field":"y"},"text":{"field":"t"}}}
]},
{"width":22,"height":567,
"encoding":{"x":{"type":"quantitative","axis":null,"scale":{"domain":[0,1],"nice":false,"zero":false}},"y":{"type":"quantitative","scale":{"domain":[-17.9,157.3],"nice":false,"zero":false},"axis":{"orient":"right","values":[0,20,40,60,80,100,120,140],"domain":false,"title":null,"tickSize":7,"tickColor":"black","tickWidth":1.2,"labelPadding":9,"labelFontSize":14.5,"labelColor":"#111","labelBound":false,"labelFlush":false}}},
"layer":[
{"data":{"name":"bar"},"mark":{"type":"rect","stroke":"black","strokeWidth":1.2,"color":{"gradient":"linear","x1":0,"y1":1,"x2":0,"y2":0,"stops":[{"offset":0,"color":"#5e4fa2"},{"offset":0.0357,"color":"#4a60b0"},{"offset":0.0714,"color":"#3570bf"},{"offset":0.1,"color":"#3288bd"},{"offset":0.2,"color":"#66c2a5"},{"offset":0.3,"color":"#abdda4"},{"offset":0.4,"color":"#e6f598"},{"offset":0.5,"color":"#ffffbf"},{"offset":0.6,"color":"#fee08b"},{"offset":0.7,"color":"#fdae61"},{"offset":0.8,"color":"#f46d43"},{"offset":0.9,"color":"#d53e4f"},{"offset":1,"color":"#9e0142"}]}},"encoding":{"x":{"field":"a"},"x2":{"field":"b"},"y":{"field":"lo"},"y2":{"field":"hi"}}},
{"data":{"values":[{"x":1.64,"y":152.7,"t":"max"},{"x":1.64,"y":-13.6,"t":"PM₁₀"}]},"mark":{"type":"text","align":"left","fontSize":15,"color":"#111"},"encoding":{"x":{"field":"x"},"y":{"field":"y"},"text":{"field":"t"}}}
]}
]}
]}
